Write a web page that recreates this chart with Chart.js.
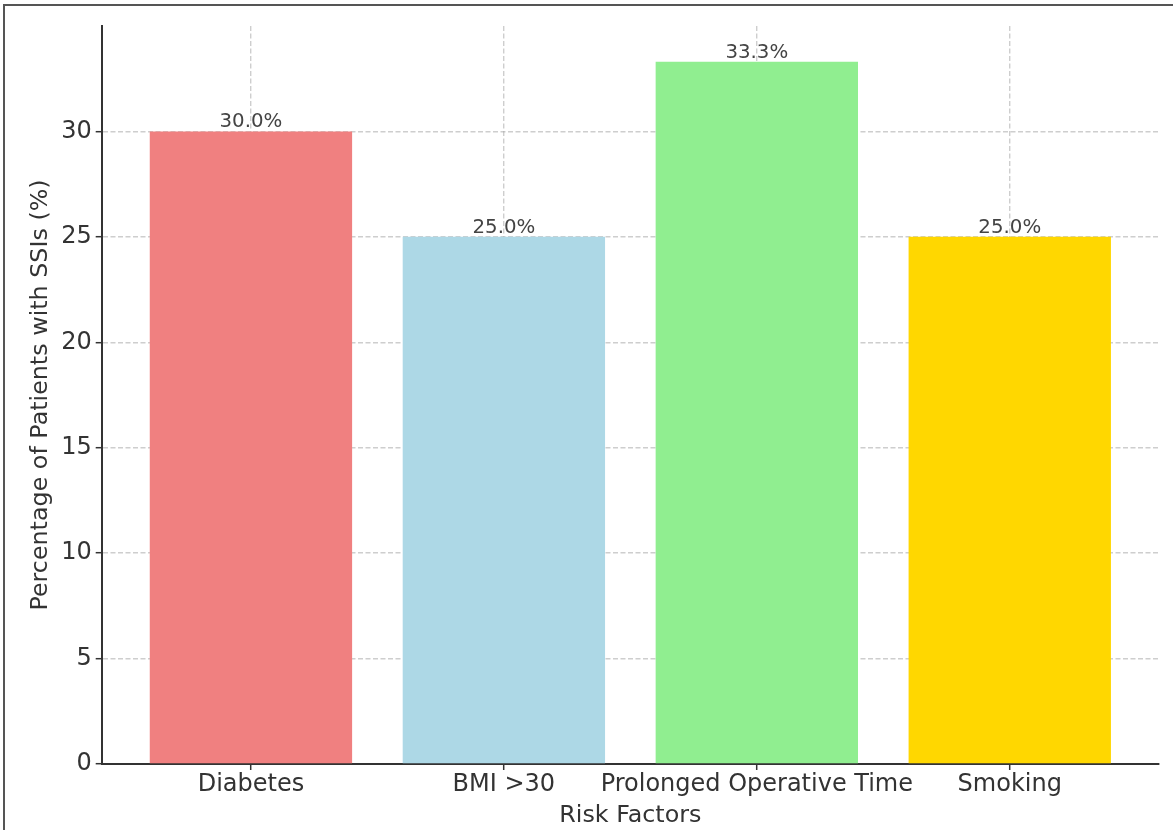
<!DOCTYPE html>
<html>
<head>
<meta charset="utf-8">
<script src="https://cdn.jsdelivr.net/npm/chart.js@4.4.0/dist/chart.umd.min.js"></script>
<style>
    html, body { margin: 0; padding: 0; background: #fff; overflow: hidden; }
    #wrap { position: relative; width: 1173px; height: 830px; }
    #frame {
        position: absolute; left: 3px; top: 4px; width: 1200px; height: 900px;
        border-top: 2px solid #555; border-left: 2px solid #555;
        pointer-events: none;
    }
    canvas { position: absolute; left: 0; top: 0; }
</style>
</head>
<body>
<div id="wrap">
    <canvas id="grafico" width="1173" height="830"></canvas>
    <div id="frame"></div>
</div>
<script>
const categorias = ["Diabetes", "BMI >30", "Prolonged Operative Time", "Smoking"];
const valores = [30.0, 25.0, 33.3, 25.0];
const cores = ["#F08080", "#ADD8E6", "#90EE90", "#FFD700"];
const ticksY = [0, 5, 10, 15, 20, 25, 30];

const fonte = "'DejaVu Sans', sans-serif";
const corTexto = "#333";
const corGrade = "rgba(165,165,165,0.55)";

const rotulosBarras = {
    id: "rotulosBarras",
    afterDraw(chart) {
        const ctx = chart.ctx;
        const meta = chart.getDatasetMeta(0);
        ctx.save();
        ctx.font = "19.8px " + fonte;
        ctx.fillStyle = "#444";
        ctx.textAlign = "center";
        ctx.textBaseline = "alphabetic";
        meta.data.forEach((bar, i) => {
            ctx.fillText(valores[i].toFixed(1) + "%", bar.x, bar.y - 4);
        });
        ctx.restore();
    }
};

const ctx = document.getElementById("grafico").getContext("2d");
const grafico = new Chart(ctx, {
    type: "bar",
    data: {
        datasets: [{
            data: valores.map((v, i) => ({ x: i, y: v })),
            backgroundColor: cores,
            borderWidth: 0,
            categoryPercentage: 1,
            barPercentage: 0.8,
        }],
    },
    options: {
        responsive: false,
        animation: false,
        layout: { padding: { top: 26, right: 14, left: 0, bottom: 0 } },
        plugins: { legend: { display: false }, tooltip: { enabled: false } },
        scales: {
            x: {
                type: "linear",
                min: -0.59,
                max: 3.59,
                offset: false,
                z: 1,
                afterBuildTicks: (s) => { s.ticks = categorias.map((c, i) => ({ value: i })); },
                afterFit: (s) => { s.height = 66; },
                ticks: {
                    callback: (v) => categorias[v],
                    font: { family: fonte, size: 24 },
                    color: corTexto,
                    padding: 0,
                    maxRotation: 0,
                    autoSkip: false,
                },
                grid: {
                    offset: false,
                    color: corGrade,
                    lineWidth: 1.4,
                    tickLength: 6,
                    tickColor: "#333",
                    tickWidth: 1.5,
                    tickBorderDash: [],
                },
                border: { display: true, color: "#333", width: 2, dash: [5, 2.5] },
                title: {
                    display: true,
                    text: "Risk Factors",
                    font: { family: fonte, size: 23.8 },
                    color: corTexto,
                    padding: { top: 0, bottom: 0 },
                },
            },
            y: {
                min: 0,
                max: 35,
                z: 1,
                afterBuildTicks: (s) => { s.ticks = ticksY.map((v) => ({ value: v })); },
                afterFit: (s) => { s.width = 101.7; },
                ticks: {
                    font: { family: fonte, size: 24 },
                    color: corTexto,
                    padding: 4,
                },
                grid: {
                    color: corGrade,
                    lineWidth: 1.4,
                    tickLength: 6,
                    tickColor: "#333",
                    tickWidth: 1.5,
                    tickBorderDash: [],
                },
                border: { display: true, color: "#333", width: 2, dash: [5, 2.5] },
                title: {
                    display: true,
                    text: "Percentage of Patients with SSIs (%)",
                    font: { family: fonte, size: 23.8 },
                    color: corTexto,
                    padding: { top: 27, bottom: 0 },
                },
            },
        },
    },
    plugins: [rotulosBarras],
});
</script>
</body>
</html>
